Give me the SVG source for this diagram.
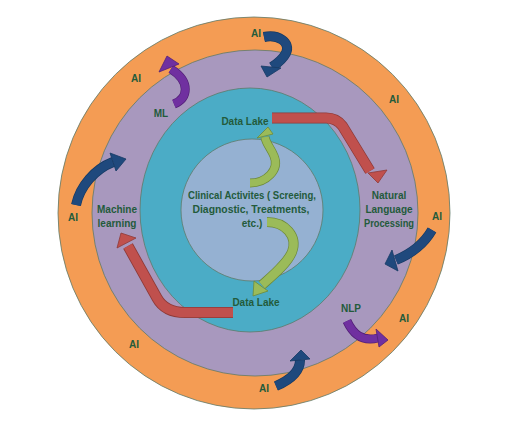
<svg xmlns="http://www.w3.org/2000/svg" width="509" height="432" viewBox="0 0 509 432">
<style>
.t{font-family:"Liberation Sans",Arial,sans-serif;font-weight:bold;font-size:10px;fill:#235B3B;text-anchor:middle}
.ring{stroke:#5E7A6A;stroke-width:0.8}
.o{fill:none;stroke-linecap:butt;stroke-linejoin:round}
.red .o{stroke:#8E3A38}.red .b{stroke:#C0504D}.red polygon{fill:#C0504D;stroke:#8E3A38;stroke-width:0.8}
.grn .o{stroke:#6E8A3A}.grn .b{stroke:#9BBB59}.grn polygon{fill:#9BBB59;stroke:#6E8A3A;stroke-width:0.8}
.blu .o{stroke:#163A63}.blu .b{stroke:#1F497D}.blu polygon{fill:#1F497D;stroke:#163A63;stroke-width:0.8}
.pur .o{stroke:#532077}.pur .b{stroke:#7030A0}.pur polygon{fill:#7030A0;stroke:#532077;stroke-width:0.8}
</style>
<rect width="509" height="432" fill="#FFFFFF"/>
<g id="ai-ring">
<circle class="ring" cx="254" cy="213" r="196" fill="#F49C54"/>
<text class="t" x="256" y="37">AI</text>
<text class="t" x="136" y="82">AI</text>
<text class="t" x="394" y="103">AI</text>
<text class="t" x="73" y="221">AI</text>
<text class="t" x="437" y="220">AI</text>
<text class="t" x="404" y="322">AI</text>
<text class="t" x="134" y="348">AI</text>
<text class="t" x="264" y="392">AI</text>
</g>
<g id="ml-nlp-ring">
<circle class="ring" cx="255" cy="213" r="163" fill="#A898BE"/>
<text class="t" x="117" y="213">Machine</text>
<text class="t" x="117" y="227">learning</text>
<text class="t" x="389" y="199">Natural</text>
<text class="t" x="389" y="213">Language</text>
<text class="t" x="389" y="227" textLength="50" lengthAdjust="spacingAndGlyphs">Processing</text>
</g>
<g id="data-lake">
<ellipse class="ring" cx="250" cy="210" rx="110" ry="122" fill="#4BACC6"/>
<text class="t" x="245" y="125">Data Lake</text>
<text class="t" x="256" y="306">Data Lake</text>
</g>
<g id="clinical">
<circle class="ring" cx="252" cy="210" r="71" fill="#95B1D2"/>
<text class="t" x="252" y="199" textLength="128" lengthAdjust="spacingAndGlyphs">Clinical Activites ( Screeing,</text>
<text class="t" x="251" y="213" textLength="117" lengthAdjust="spacingAndGlyphs">Diagnostic, Treatments,</text>
<text class="t" x="252" y="227">etc.)</text>
</g>
<g id="connectors">
<g class="red">
<path class="o" stroke-width="11" d="M272,118 L326,118 Q336.5,118 342.5,126 L370,171"/>
<path class="o b" stroke-width="9.4" d="M272,118 L326,118 Q336.5,118 342.5,126 L370,171"/>
<polygon points="368,173 387,170 378,183"/>
<path class="o" stroke-width="11" d="M233,312.5 L185,312.5 Q165,312.5 157,298 L128,246"/>
<path class="o b" stroke-width="9.4" d="M233,312.5 L185,312.5 Q165,312.5 157,298 L128,246"/>
<polygon points="117,248 136,238 121,233"/>
</g>
<g class="grn">
<path class="o" stroke-width="9" d="M250,183 C266,183 280,170 274,156 C271,148 266,144 265,137"/>
<path class="o b" stroke-width="7.6" d="M250,183 C266,183 280,170 274,156 C271,148 266,144 265,137"/>
<polygon points="257,138 273,134 268,127"/>
<path class="o" stroke-width="10" d="M267,222 C285,222 298,236 292,252 C287,264 272,276 262,285"/>
<path class="o b" stroke-width="8.6" d="M267,222 C285,222 298,236 292,252 C287,264 272,276 262,285"/>
<polygon points="254,281 268,291 253,296"/>
</g>
<g class="blu">
<path class="o" stroke-width="10" d="M264,37 C278,34 291,42 286,53 C283,59 278,63 272,67"/>
<path class="o b" stroke-width="8.6" d="M264,37 C278,34 291,42 286,53 C283,59 278,63 272,67"/>
<polygon points="261,66 281,68 267,77"/>
<path class="o" stroke-width="10" d="M76,205 C80,186 95,169 113,162"/>
<path class="o b" stroke-width="8.6" d="M76,205 C80,186 95,169 113,162"/>
<polygon points="110,153 116,171 126,159"/>
<path class="o" stroke-width="10" d="M432,230 C425,242 413,253 396,260"/>
<path class="o b" stroke-width="8.6" d="M432,230 C425,242 413,253 396,260"/>
<polygon points="392,250 398,271 385,264"/>
<path class="o" stroke-width="10" d="M276,386 C290,380 300,371 300,360"/>
<path class="o b" stroke-width="8.6" d="M276,386 C290,380 300,371 300,360"/>
<polygon points="290,361 310,359 301,350"/>
</g>
<g class="pur">
<path class="o" stroke-width="9" d="M174,104 C188,98 191,82 171,69"/>
<path class="o b" stroke-width="7.6" d="M174,104 C188,98 191,82 171,69"/>
<polygon points="159,72 179,64 167,56"/>
<path class="o" stroke-width="9" d="M347,321 C353,334 362,342 378,338"/>
<path class="o b" stroke-width="7.6" d="M347,321 C353,334 362,342 378,338"/>
<polygon points="376,329 379,347 388,340"/>
</g>
<text class="t" x="161" y="117">ML</text>
<text class="t" x="351" y="312">NLP</text>
</g>
</svg>
